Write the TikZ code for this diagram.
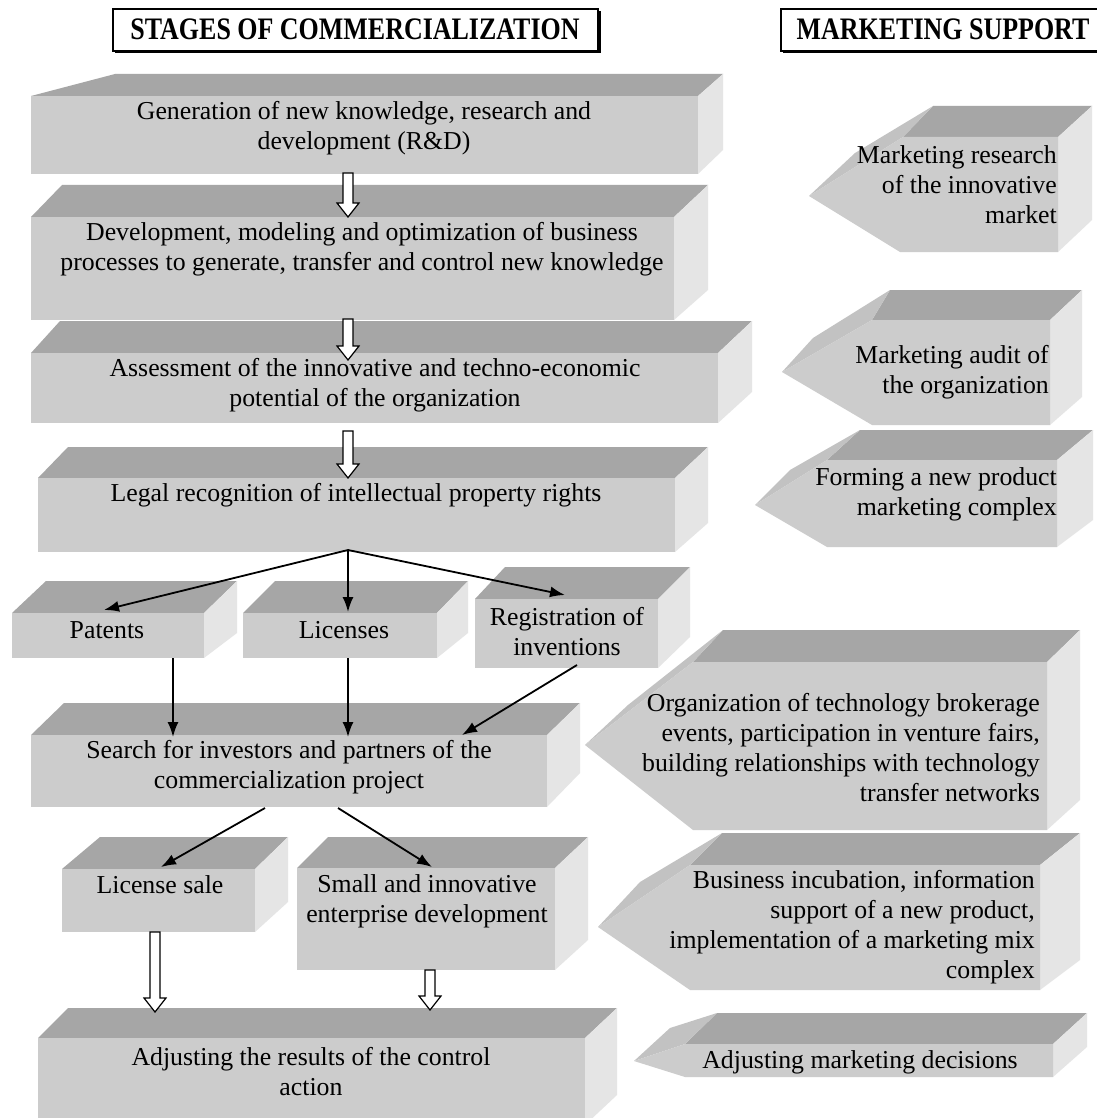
\documentclass[tikz,border=0pt]{standalone}
\usepackage{fontspec}
\setmainfont{Liberation Serif}
\usetikzlibrary{arrows.meta,calc,fit}
\definecolor{frontc}{gray}{0.80}
\definecolor{topc}{gray}{0.65}
\definecolor{sidec}{gray}{0.90}
\definecolor{bevelc}{gray}{0.76}
% #1 name, #2 x1, #3 y1, #4 x2, #5 y2, #6 back-left x, #7 back-right x, #8 back top y, #9 back-right bottom y
\newcommand\cuboid[9]{%
  \fill[topc] (#2,#3) -- (#6,#8) -- (#7,#8) -- (#4,#3) -- cycle;
  \fill[sidec] (#4,#3) -- (#7,#8) -- (#7,#9) -- (#4,#5) -- cycle;
  \coordinate (#1-a) at (#2,#3);
  \coordinate (#1-b) at (#4,#5);
  \node[frontface, fit=(#1-a)(#1-b)] (#1) {};
}
\newcommand\hollowarr[2]{%
  \draw[line width=1.2pt, fill=white, line join=miter]
    ($(#1)+(-5,0)$) -- ($(#2)+(-5,-14)$) -- ($(#2)+(-11,-14)$) -- (#2)
    -- ($(#2)+(11,-14)$) -- ($(#2)+(5,-14)$) -- ($(#1)+(5,0)$) -- cycle;
}
\tikzset{
  frontface/.style={fill=frontc, draw=none, inner sep=0pt},
  txt/.style={font=\fontsize{25.8}{30}\selectfont, align=center, inner sep=0pt},
  rtxt/.style={font=\fontsize{25.8}{30}\selectfont, align=right, anchor=east, inner sep=0pt},
  hdrtxt/.style={font=\fontsize{26.5}{30}\selectfont\bfseries, inner sep=0pt},
  hdrbox/.style={draw, line width=1.5pt},
  arr/.style={line width=1.8pt, -{Latex[length=15pt,width=11pt]}},
}
\begin{document}
\begin{tikzpicture}[x=1pt,y=-1pt]
\useasboundingbox (0,0) rectangle (1096,1118);
\fill[white] (0,0) rectangle (1096,1118);

% headers
\draw[hdrbox] (113,9) rectangle (598,51);
\draw[line width=1.5pt] (115,52.5) -- (600,52.5) -- (600,11);
\node[hdrtxt] (hleft) at (355,29) {\scalebox{0.98}[1.18]{STAGES OF COMMERCIALIZATION}};
\draw[hdrbox] (1102,9) -- (781,9) -- (781,51) -- (1102,51);
\draw[line width=1.5pt] (783,52.5) -- (1102,52.5);
\node[hdrtxt] (hright) at (943,29) {\scalebox{0.98}[1.18]{MARKETING SUPPORT}};

% ---- left column boxes ----
\cuboid{b1}{31}{96}{698}{174}{115}{723}{74}{150}
\node[txt] (t1) at (364,128) {Generation of new knowledge, research and\\development (R\&D)};

\cuboid{b2}{31}{217}{674}{320}{62}{708}{185}{290}
\node[txt] (t2) at (362,249) {Development, modeling and optimization of business\\processes to generate, transfer and control new knowledge};

\coordinate (h1s) at (348,173);
\coordinate (h1e) at (348,217);
\hollowarr{h1s}{h1e}

\cuboid{b3}{31}{353}{718}{423}{60}{752}{321}{392}
\node[txt] (t3) at (375,385) {Assessment of the innovative and techno-economic\\potential of the organization};

\coordinate (h2s) at (348,319);
\coordinate (h2e) at (348,360);
\hollowarr{h2s}{h2e}

\cuboid{b4}{38}{478}{675}{552}{68}{708}{447}{523}
\node[txt] (t4) at (356,495) {Legal recognition of intellectual property rights};

\coordinate (h3s) at (348,431);
\coordinate (h3e) at (348,478);
\hollowarr{h3s}{h3e}

\cuboid{pat}{12}{613}{204}{658}{46}{237}{581}{633}
\node[txt] (tpat) at (107,630) {Patents};
\cuboid{lic}{243}{613}{437}{658}{275}{468}{581}{633}
\node[txt] (tlic) at (344,630) {Licenses};
\cuboid{reg}{475}{599}{658}{668}{505}{690}{567}{637}
\node[txt] (treg) at (567,632) {Registration of\\inventions};

\cuboid{b5}{31}{735}{547}{807}{64}{580}{703}{773}
\node[txt] (t5) at (289,767) {Search for investors and partners of the\\commercialization project};

\cuboid{ls}{62}{869}{255}{932}{100}{288}{837}{902}
\node[txt] (tls) at (160,885) {License sale};
\cuboid{sm}{297}{868}{555}{970}{328}{588}{837}{940}
\node[txt] (tsm) at (427,901) {Small and innovative\\enterprise development};

\cuboid{b8}{38}{1038}{585}{1125}{68}{617}{1008}{1095}
\node[txt] (t8) at (311,1072) {Adjusting the results of the control\\action};

\coordinate (h4s) at (155,932);
\coordinate (h4e) at (155,1012);
\hollowarr{h4s}{h4e}
\coordinate (h5s) at (430,970);
\coordinate (h5e) at (430,1010);
\hollowarr{h5s}{h5e}

% ---- black connectors ----
\coordinate (root) at (348,550);
\coordinate (patin) at (104,610);
\coordinate (licin) at (348,612);
\coordinate (regin) at (565,595);
\draw[arr] (root) -- (patin);
\draw[arr] (root) -- (licin);
\draw[arr] (root) -- (regin);

\coordinate (patout) at (173,658);
\coordinate (s1in) at (173,737);
\coordinate (licout) at (348,658);
\coordinate (s2in) at (348,737);
\coordinate (regout) at (577,665);
\coordinate (s3in) at (462,735);
\draw[arr] (patout) -- (s1in);
\draw[arr] (licout) -- (s2in);
\draw[arr] (regout) -- (s3in);

\coordinate (sout1) at (265,808);
\coordinate (lsin) at (161,867);
\coordinate (sout2) at (338,808);
\coordinate (smin) at (432,867);
\draw[arr] (sout1) -- (lsin);
\draw[arr] (sout2) -- (smin);

% ---- right column: pointed 3D shapes ----
% MR1
\fill[topc] (903,137) -- (933,106) -- (1092,106) -- (1058,137) -- cycle;
\fill[sidec] (1058,137) -- (1092,106) -- (1092,220) -- (1058,252) -- cycle;
\fill[bevelc] (809,196) -- (903,137) -- (933,106) -- (855,153) -- cycle;
\fill[frontc] (903,137) -- (1058,137) -- (1058,252) -- (900,252) -- (809,196) -- cycle;
\node[rtxt] (m1) at (1057,185) {Marketing research\\of the innovative\\market};

% MR2
\fill[topc] (872,320) -- (890,290) -- (1082,290) -- (1050,320) -- cycle;
\fill[sidec] (1050,320) -- (1082,290) -- (1082,397) -- (1050,425) -- cycle;
\fill[bevelc] (782,372) -- (872,320) -- (890,290) -- (813,338) -- cycle;
\fill[frontc] (872,320) -- (1050,320) -- (1050,425) -- (872,425) -- (782,372) -- cycle;
\node[rtxt] (m2) at (1049,372) {Marketing audit of\\the organization};

% MR3
\fill[topc] (827,460) -- (860,430) -- (1093,430) -- (1057,460) -- cycle;
\fill[sidec] (1057,460) -- (1093,430) -- (1093,520) -- (1057,547) -- cycle;
\fill[bevelc] (755,505) -- (827,460) -- (860,430) -- (790,470) -- cycle;
\fill[frontc] (827,460) -- (1057,460) -- (1057,547) -- (827,547) -- (755,505) -- cycle;
\node[rtxt] (m3) at (1057,494) {Forming a new product\\marketing complex};

% MR4
\fill[topc] (693,662) -- (723,630) -- (1080,630) -- (1047,662) -- cycle;
\fill[sidec] (1047,662) -- (1080,630) -- (1080,800) -- (1047,830) -- cycle;
\fill[bevelc] (585,745) -- (693,662) -- (723,630) -- (628,705) -- cycle;
\fill[frontc] (693,662) -- (1047,662) -- (1047,830) -- (693,830) -- (585,745) -- cycle;
\node[rtxt] (m4) at (1040,748) {Organization of technology brokerage\\events, participation in venture fairs,\\building relationships with technology\\transfer networks};

% MR5
\fill[topc] (690,865) -- (722,833) -- (1080,833) -- (1040,865) -- cycle;
\fill[sidec] (1040,865) -- (1080,833) -- (1080,960) -- (1040,990) -- cycle;
\fill[bevelc] (598,927) -- (690,865) -- (722,833) -- (640,882) -- cycle;
\fill[frontc] (690,865) -- (1040,865) -- (1040,990) -- (690,990) -- (598,927) -- cycle;
\node[rtxt] (m5) at (1035,927) {Business incubation, information\\support of a new product,\\implementation of a marketing mix\\complex};

% MR6
\fill[topc] (685,1044) -- (717,1013) -- (1087,1013) -- (1053,1044) -- cycle;
\fill[sidec] (1053,1044) -- (1087,1013) -- (1087,1047) -- (1053,1077) -- cycle;
\fill[bevelc] (634,1061) -- (685,1044) -- (717,1013) -- (670,1028) -- cycle;
\fill[frontc] (685,1044) -- (1053,1044) -- (1053,1077) -- (685,1077) -- (634,1061) -- cycle;
\node[txt] (m6) at (860,1062) {Adjusting marketing decisions};
\end{tikzpicture}
\end{document}
